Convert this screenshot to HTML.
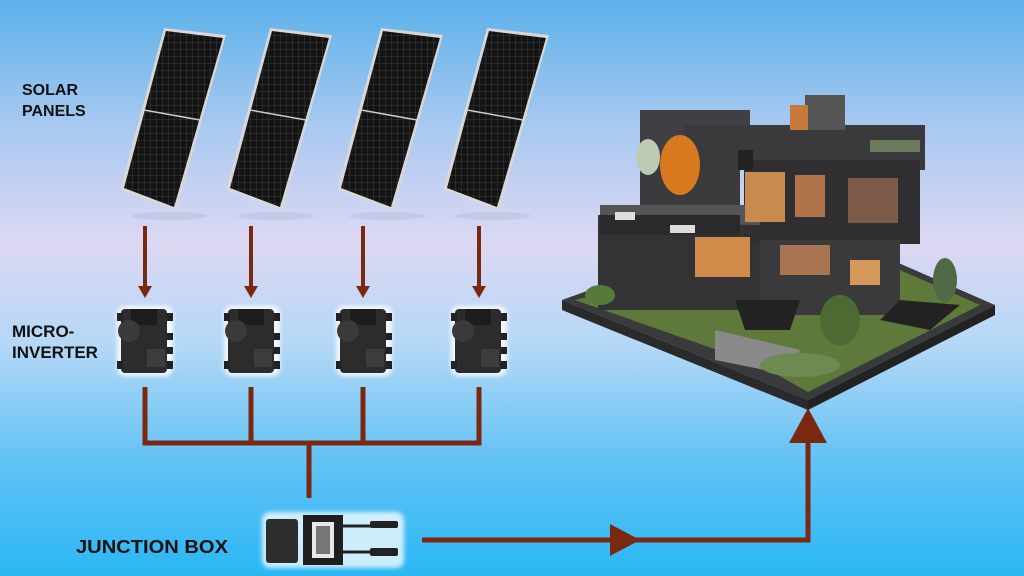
<!DOCTYPE html>
<html><head><meta charset="utf-8"><style>
html,body{margin:0;padding:0;width:1024px;height:576px;overflow:hidden}
svg{display:block}
text{font-family:"Liberation Sans",Arial,sans-serif;font-weight:bold;fill:#111}
</style></head><body>
<svg width="1024" height="576" viewBox="0 0 1024 576" xmlns="http://www.w3.org/2000/svg">
<defs>
<linearGradient id="bg" x1="0" y1="0" x2="0" y2="1">
<stop offset="0" stop-color="#5cb1ea"/>
<stop offset="0.22" stop-color="#a8c9f0"/>
<stop offset="0.42" stop-color="#ddd8f3"/>
<stop offset="0.6" stop-color="#b4d8f6"/>
<stop offset="0.8" stop-color="#62c2f5"/>
<stop offset="1" stop-color="#2bb7f4"/>
</linearGradient>
<pattern id="cells" width="6" height="7" patternUnits="userSpaceOnUse">
<rect width="6" height="7" fill="#141414"/>
<path d="M0 0H6M0 0V7" stroke="#5a5a5a" stroke-width="0.6"/>
</pattern>
<filter id="glow" x="-20%" y="-20%" width="140%" height="140%"><feGaussianBlur stdDeviation="2"/></filter>
<g id="panel">
<ellipse cx="50" cy="188" rx="38" ry="4" fill="#8a9ab8" opacity="0.2"/>
<polygon points="44,0 106,7 56,183 0,162" fill="#d8d8d8"/>
<polygon points="46,3 103,10 54,179 4,160" fill="url(#cells)"/>
<line x1="24" y1="82" x2="80" y2="92" stroke="#ccc" stroke-width="1.5"/>
</g>
<g id="inv">
<rect x="-28" y="1" width="56" height="70" rx="8" fill="#fff" opacity="0.85" filter="url(#glow)"/>
<rect x="-24" y="4" width="46" height="64" rx="4" fill="#2c2c2c"/>
<rect x="-14" y="4" width="26" height="16" fill="#1d1d1d"/>
<circle cx="-16" cy="26" r="11" fill="#3a3a3a"/>
<rect x="-28" y="8" width="6" height="8" fill="#222"/>
<rect x="22" y="8" width="6" height="8" fill="#222"/>
<rect x="-28" y="56" width="6" height="8" fill="#222"/>
<rect x="22" y="56" width="6" height="8" fill="#222"/>
<rect x="22" y="28" width="6" height="7" fill="#222"/>
<rect x="22" y="42" width="6" height="7" fill="#222"/>
<rect x="2" y="44" width="18" height="18" fill="#3d3d3d"/>
</g>
</defs>
<rect width="1024" height="576" fill="url(#bg)"/>

<text x="22" y="95" font-size="16">SOLAR</text>
<text x="22" y="116" font-size="16">PANELS</text>
<text x="12" y="337" font-size="17">MICRO-</text>
<text x="12" y="358" font-size="17">INVERTER</text>
<text x="76" y="553" font-size="18" textLength="152" lengthAdjust="spacingAndGlyphs">JUNCTION BOX</text>

<use href="#panel" x="120" y="28"/>
<use href="#panel" x="226" y="28"/>
<use href="#panel" x="337" y="28"/>
<use href="#panel" x="443" y="28"/>

<g fill="#7a2810" stroke="#7a2810">
<g stroke-width="4">
<line x1="145" y1="226" x2="145" y2="290"/>
<line x1="251" y1="226" x2="251" y2="290"/>
<line x1="363" y1="226" x2="363" y2="290"/>
<line x1="479" y1="226" x2="479" y2="290"/>
</g>
<g stroke="none">
<polygon points="138,286 152,286 145,298"/>
<polygon points="244,286 258,286 251,298"/>
<polygon points="356,286 370,286 363,298"/>
<polygon points="472,286 486,286 479,298"/>
</g>
<g stroke-width="5" fill="none">
<polyline points="145,387 145,443 479,443 479,387"/>
<line x1="251" y1="387" x2="251" y2="443"/>
<line x1="363" y1="387" x2="363" y2="443"/>
<line x1="309" y1="443" x2="309" y2="498"/>
<polyline points="422,540 808,540 808,440"/>
</g>
<polygon stroke="none" points="610,524 610,556 640,540"/>
<polygon stroke="none" points="789,443 827,443 808,408"/>
</g>

<use href="#inv" x="145" y="305"/>
<use href="#inv" x="252" y="305"/>
<use href="#inv" x="364" y="305"/>
<use href="#inv" x="479" y="305"/>

<!-- junction box -->
<g>
<rect x="262" y="512" width="142" height="56" rx="8" fill="#fff" opacity="0.75" filter="url(#glow)"/>
<rect x="266" y="519" width="32" height="44" rx="3" fill="#2d2d2d"/>
<rect x="303" y="515" width="40" height="50" fill="#1f1f1f"/>
<rect x="312" y="522" width="22" height="36" fill="#e8e8e8"/>
<rect x="316" y="526" width="14" height="28" fill="#777"/>
<path d="M343 526 H372 M343 552 H372" stroke="#222" stroke-width="3"/>
<rect x="370" y="521" width="28" height="7" rx="2" fill="#222"/>
<rect x="370" y="548" width="28" height="8" rx="2" fill="#222"/>
</g>

<!-- house -->
<g>
<polygon points="562,300 808,400 995,305 880,255 700,250" fill="#3a3a3c"/>
<polygon points="562,300 808,400 808,410 562,310" fill="#2a2a2a"/>
<polygon points="808,400 995,305 995,315 808,410" fill="#222"/>
<polygon points="575,300 760,365 808,392 980,305 900,270 700,270" fill="#5d7a3a"/>
<polygon points="715,330 800,350 790,375 715,360" fill="#8a8a8a"/>
<rect x="598" y="215" width="170" height="95" fill="#333336"/>
<rect x="640" y="162" width="100" height="60" fill="#3b3b3e"/>
<rect x="640" y="110" width="110" height="60" fill="#404044"/>
<rect x="685" y="125" width="240" height="45" fill="#3a3a3d"/>
<rect x="744" y="160" width="176" height="84" fill="#2f2f32"/>
<rect x="760" y="240" width="140" height="75" fill="#3a3a3c"/>
<polygon points="600,205 760,205 760,225 600,222" fill="#555"/>
<rect x="600" y="215" width="140" height="20" fill="#2a2a2c"/>
<rect x="738" y="150" width="15" height="20" fill="#222"/>
<rect x="805" y="95" width="40" height="35" fill="#555"/>
<rect x="790" y="105" width="18" height="25" fill="#c87a3a"/>
<rect x="745" y="172" width="40" height="50" fill="#c98a4e"/>
<rect x="795" y="175" width="30" height="42" fill="#b07448"/>
<rect x="848" y="178" width="50" height="45" fill="#7b5a48"/>
<rect x="695" y="237" width="55" height="40" fill="#d08a4a"/>
<rect x="780" y="245" width="50" height="30" fill="#a97550"/>
<rect x="850" y="260" width="30" height="25" fill="#d59a5a"/>
<polygon points="735,300 800,300 790,330 745,330" fill="#222"/>
<polygon points="900,300 960,305 930,330 880,320" fill="#222"/>
<ellipse cx="680" cy="165" rx="20" ry="30" fill="#d87a20"/>
<ellipse cx="648" cy="157" rx="12" ry="18" fill="#bfcab5"/>
<ellipse cx="840" cy="320" rx="20" ry="25" fill="#4d6a33"/>
<ellipse cx="945" cy="280" rx="12" ry="22" fill="#506a45"/>
<ellipse cx="600" cy="295" rx="15" ry="10" fill="#557a3a"/>
<ellipse cx="800" cy="365" rx="40" ry="12" fill="#6d8a50"/>
<rect x="615" y="212" width="20" height="8" fill="#ddd"/>
<rect x="670" y="225" width="25" height="8" fill="#ddd"/>
<rect x="870" y="140" width="50" height="12" fill="#6a7a5a"/>
</g>
</svg>
</body></html>
